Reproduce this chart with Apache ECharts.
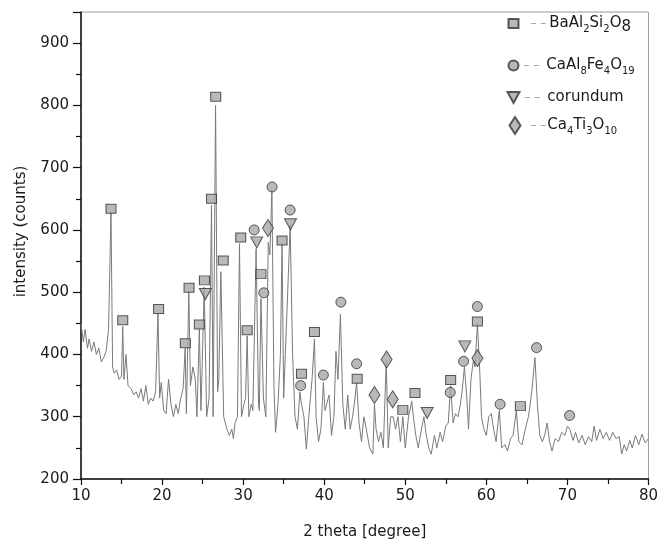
<!DOCTYPE html>
<html>
<head>
<meta charset="utf-8">
<script src="https://cdn.jsdelivr.net/npm/echarts@6/dist/echarts.min.js"></script>
<style>
html,body{margin:0;padding:0;background:#fff;}
#c{width:661px;height:545px;}
</style>
</head>
<body>
<div id="c"></div>
<script>
// XRD pattern: 2-theta positions and intensities (counts)
const twoTheta = [
10.0,10.3,10.5,10.8,11.0,11.3,11.6,11.9,12.2,12.5,12.8,13.1,13.4,13.7,13.9,14.1,14.4,14.7,15.0,15.15,
15.3,15.55,15.8,16.2,16.5,16.8,17.1,17.4,17.7,18.0,18.3,18.6,18.9,19.2,19.5,19.7,19.9,20.2,20.5,20.8,
21.1,21.4,21.7,22.0,22.3,22.6,22.85,23.0,23.3,23.5,23.8,24.1,24.3,24.6,24.8,25.2,25.5,25.8,26.1,26.3,
26.6,26.85,27.0,27.25,27.6,28.0,28.3,28.6,28.8,29.0,29.3,29.55,29.8,30.1,30.3,30.5,30.7,31.0,31.2,31.6,
31.9,32.0,32.2,32.5,32.8,33.1,33.3,33.55,33.8,34.0,34.3,34.6,34.8,35.0,35.2,35.5,35.8,36.1,36.4,36.7,
37.0,37.2,37.5,37.8,38.1,38.5,38.8,39.0,39.3,39.6,39.9,40.1,40.3,40.6,40.9,41.2,41.45,41.7,42.0,42.3,
42.6,42.9,43.2,43.5,43.8,44.0,44.3,44.6,44.9,45.2,45.6,46.0,46.2,46.4,46.7,47.0,47.3,47.65,47.9,48.2,
48.5,48.8,49.1,49.4,49.7,50.0,50.4,50.8,51.0,51.3,51.6,52.0,52.3,52.6,52.9,53.2,53.6,53.9,54.3,54.6,
55.0,55.3,55.6,55.9,56.2,56.5,56.8,57.0,57.3,57.6,57.8,58.1,58.4,58.6,58.9,59.2,59.4,59.7,60.0,60.3,
60.6,60.9,61.2,61.6,61.9,62.3,62.6,63.0,63.3,63.7,64.0,64.4,64.8,65.2,65.6,66.0,66.3,66.6,66.9,67.2,
67.5,67.8,68.1,68.5,68.9,69.3,69.7,70.0,70.3,70.7,71.0,71.4,71.8,72.2,72.6,73.0,73.3,73.6,74.0,74.4,
74.8,75.2,75.6,76.0,76.4,76.7,77.0,77.3,77.7,78.0,78.4,78.8,79.2,79.6,80.0
];
const intensity = [
450,420,440,410,425,405,420,400,410,388,395,405,440,628,380,370,375,360,365,445,
360,400,350,345,335,340,330,345,325,350,320,330,325,340,465,330,355,310,305,360,
320,300,320,305,330,345,410,305,500,350,380,360,300,440,310,508,300,330,640,300,
800,340,360,533,300,280,270,280,265,290,300,578,300,320,330,430,300,320,310,570,
320,310,490,330,300,580,560,665,350,275,320,400,578,330,400,500,608,400,300,280,
340,320,300,248,300,360,425,300,260,280,355,310,320,335,270,300,405,360,465,320,
280,335,280,300,330,355,290,260,300,280,250,240,320,280,260,275,250,390,250,300,
300,280,300,260,300,250,300,325,300,270,250,280,300,270,250,240,270,250,275,260,
285,290,350,290,305,300,320,340,380,330,280,360,390,380,450,370,300,280,270,300,
305,280,260,310,250,255,245,265,270,310,260,255,280,300,340,395,320,270,260,270,
290,260,245,265,260,275,270,285,280,262,275,258,270,255,268,260,285,262,280,265,
275,262,275,265,268,240,255,245,262,250,270,255,272,258,265
];

// Phase markers (2-theta, marker height)
const baX = [13.7,15.15,19.57,22.87,23.33,24.6,25.23,26.1,26.62,27.55,29.7,30.5,32.2,34.8,37.2,38.8,44.07,49.7,51.2,55.6,58.9,64.2];
const baY = [634,455,473,418,507,448,519,650,814,551,588,439,529,583,369,436,361,311,338,359,453,317];
const caX = [31.36,32.55,33.57,35.8,37.1,39.9,42.06,44.0,55.55,57.2,58.9,61.7,66.2,70.27];
const caY = [600,499,669,632,350,367,484,385,339,389,477,320,411,302];
const coX = [25.34,31.67,35.84,52.7,57.35];
const coY = [497,580,609,306,413];
const tiX = [33.06,46.2,47.7,48.45,58.9];
const tiY = [603,335,392,328,394];

const yTicks = [200,300,400,500,600,700,800,900];
const xTicks = [10,20,30,40,50,60,70,80];

const zip = (a,b) => a.map((v,i)=>[v,b[i]]);
const FONT = 'DejaVu Sans';
const markStyle = {color:'#a8a8a8', borderColor:'#333', borderWidth:1};

const names = ['BaAl2Si2O8','CaAl8Fe4O19','corundum','Ca4Ti3O10'];
const icons = ['rect','circle','path://M0,0 L12,0 L6,11 Z','diamond'];
const labelRich = {
  'BaAl2Si2O8':'{dA|– –}{n|BaAl}{s|2}{n|Si}{s|2}{n|O}{b|8}',
  'CaAl8Fe4O19':'{dB|– –}{n|CaAl}{s|8}{n|Fe}{s|4}{n|O}{s|19}',
  'corundum':'{dB|– –}{n|corundum}',
  'Ca4Ti3O10':'{dC|– –}{n|Ca}{s|4}{n|Ti}{s|3}{n|O}{s|10}'
};
const dash = {fontSize:12, color:'#9a9a9a', fontFamily:FONT, lineHeight:22, verticalAlign:'middle'};
const rich = {
  dA:Object.assign({}, dash, {padding:[0,3,0,7]}),
  dB:Object.assign({}, dash, {padding:[0,7,0,0]}),
  dC:Object.assign({}, dash, {padding:[0,1,0,5]}),
  n:{fontSize:15, color:'#1a1a1a', fontFamily:FONT, lineHeight:22, verticalAlign:'middle'},
  s:{fontSize:10, color:'#1a1a1a', fontFamily:FONT, lineHeight:10, verticalAlign:'bottom'},
  b:{fontSize:15, color:'#1a1a1a', fontFamily:FONT, lineHeight:18, verticalAlign:'bottom'}
};
const legendPos = [
  {left:507.5, top:16, w:10, h:9},
  {left:507.5, top:58, w:10, h:10},
  {left:506.5, top:90, w:12, h:11},
  {left:508.5, top:116, w:11, h:17}
];
const legends = names.map((n,i)=>({
  data:[{name:n, icon:icons[i]}], left:legendPos[i].left, top:legendPos[i].top,
  itemWidth:legendPos[i].w, itemHeight:legendPos[i].h,
  formatter: nm => labelRich[nm],
  textStyle:{rich:rich},
  selectedMode:false, orient:'vertical', padding:0
}));

const chart = echarts.init(document.getElementById('c'), null, {renderer:'canvas'});
chart.setOption({
  animation:false,
  backgroundColor:'#fff',
  grid:{left:81, right:7, top:12, bottom:63, show:true, borderColor:'#9a9a9a', borderWidth:1},
  legend: legends,
  xAxis:{
    type:'value', min:10, max:80, interval:10,
    name:'2 theta [degree]', nameLocation:'middle', nameGap:46,
    nameTextStyle:{fontSize:15, color:'#1a1a1a', fontFamily:FONT},
    axisLine:{show:true, onZero:false, lineStyle:{color:'#111', width:1.5}},
    axisTick:{show:true, length:6, lineStyle:{color:'#111', width:1.2}},
    minorTick:{show:true, splitNumber:2, length:5, lineStyle:{color:'#111', width:1.2}},
    splitLine:{show:false},
    axisLabel:{fontSize:15, color:'#1a1a1a', fontFamily:FONT, margin:10,
      formatter: v => xTicks.includes(v) ? String(v) : ''}
  },
  yAxis:{
    type:'value', min:200, max:950, interval:100,
    name:'intensity (counts)', nameLocation:'middle', nameGap:52,
    nameTextStyle:{fontSize:15, color:'#1a1a1a', fontFamily:FONT, padding:[0,0,0,28]},
    axisLine:{show:true, onZero:false, lineStyle:{color:'#111', width:1.5}},
    axisTick:{show:true, length:8, lineStyle:{color:'#111', width:1.2}},
    minorTick:{show:true, splitNumber:2, length:5, lineStyle:{color:'#111', width:1.2}},
    splitLine:{show:false},
    axisLabel:{fontSize:15, color:'#1a1a1a', fontFamily:FONT, margin:12, showMaxLabel:false,
      formatter: v => yTicks.includes(v) ? String(v) : ''}
  },
  series:[
    {type:'line', data:zip(twoTheta,intensity), showSymbol:false, symbol:'none',
     lineStyle:{color:'#7a7a7a', width:1}, z:2, silent:true},
    {name:names[0], type:'scatter', data:zip(baX,baY), symbol:'rect', symbolSize:[10,9], itemStyle:markStyle, z:5},
    {name:names[1], type:'scatter', data:zip(caX,caY), symbol:'circle', symbolSize:10, itemStyle:markStyle, z:5},
    {name:names[2], type:'scatter', data:zip(coX,coY), symbol:'triangle', symbolRotate:180, symbolSize:[12,11], itemStyle:markStyle, z:5},
    {name:names[3], type:'scatter', data:zip(tiX,tiY), symbol:'diamond', symbolSize:[11,17], itemStyle:markStyle, z:5}
  ]
});
</script>
</body>
</html>
